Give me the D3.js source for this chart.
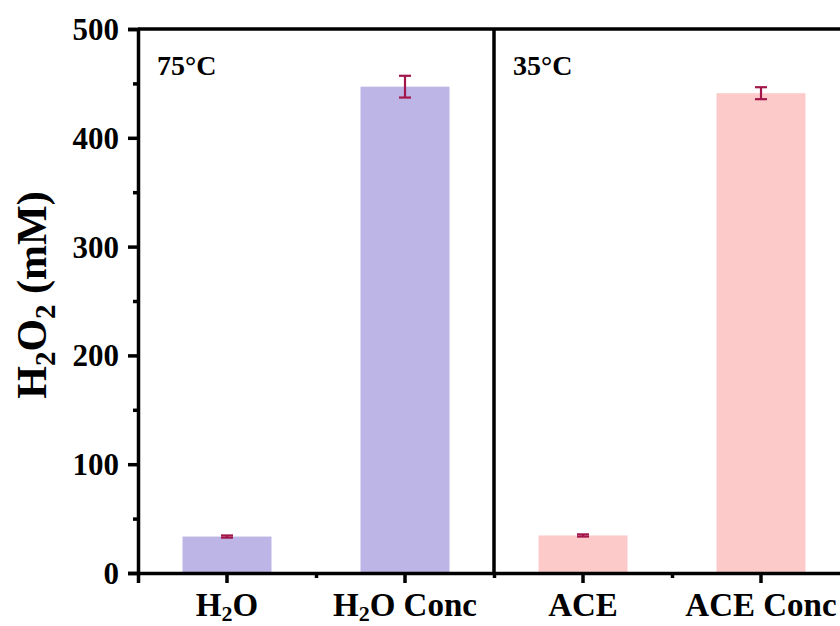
<!DOCTYPE html>
<html>
<head>
<meta charset="utf-8">
<script src="https://cdn.jsdelivr.net/npm/d3@7"></script>
<style>
  body { margin: 0; background: #fff; }
  text { font-family: "Liberation Serif", "Times New Roman", serif; font-weight: bold; }
</style>
</head>
<body>
<div id="chart"></div>
<script>
var margin = {left: 138, top: 29, right: 0, bottom: 53},
    width = 840 - margin.left,
    height = 626 - margin.top - margin.bottom;

// data
var categories = ["H2O", "H2O Conc", "ACE", "ACE Conc"];
var values = [33.5, 447, 34.5, 441];
var errors = [1, 10, 1, 5.5];
var groupLabels = ["75\u00B0C", "35\u00B0C"];
var yTicks = [0, 100, 200, 300, 400, 500];
var barColors = ["#bcb5e5", "#bcb5e5", "#fdcaca", "#fdcaca"];

var bandWidth = 178;

var x = d3.scaleBand()
    .domain(categories)
    .range([0, bandWidth * categories.length])
    .padding(0);

var y = d3.scaleLinear()
    .domain([0, 500])
    .range([height, 0]);

var svg = d3.select("#chart").append("svg")
    .attr("width", 840)
    .attr("height", 626)
  .append("g")
    .attr("transform", "translate(" + margin.left + "," + margin.top + ")");

// bars
svg.selectAll("rect.bar")
    .data(values)
  .enter().append("rect")
    .attr("class", "bar")
    .attr("x", function(d, i) { return x(categories[i]) + x.bandwidth() * 0.25; })
    .attr("width", x.bandwidth() * 0.5)
    .attr("y", function(d) { return y(d); })
    .attr("height", function(d) { return y(0) - y(d); })
    .style("fill", function(d, i) { return barColors[i]; });

// error bars
var err = svg.selectAll("g.err")
    .data(values)
  .enter().append("g")
    .attr("class", "err")
    .style("stroke", "#a3164a")
    .style("stroke-width", 2.2);

err.append("line")
    .attr("x1", function(d, i) { return x(categories[i]) + x.bandwidth() / 2; })
    .attr("x2", function(d, i) { return x(categories[i]) + x.bandwidth() / 2; })
    .attr("y1", function(d, i) { return y(d + errors[i]); })
    .attr("y2", function(d, i) { return y(d - errors[i]); });

[1, -1].forEach(function(s) {
  err.append("line")
    .attr("x1", function(d, i) { return x(categories[i]) + x.bandwidth() / 2 - 6; })
    .attr("x2", function(d, i) { return x(categories[i]) + x.bandwidth() / 2 + 6; })
    .attr("y1", function(d, i) { return y(d + s * errors[i]); })
    .attr("y2", function(d, i) { return y(d + s * errors[i]); });
});

// y axis
var yAxis = svg.append("g")
    .call(d3.axisLeft(y).tickValues(yTicks).tickSize(10).tickPadding(9));
yAxis.selectAll("text").style("font-size", "31px").style("fill", "#000").attr("dy", "0.34em");

var yMinor = svg.append("g")
    .call(d3.axisLeft(y).tickValues(d3.range(50, 500, 100)).tickSize(5).tickFormat(""));

// x axis
var xAxis = svg.append("g")
    .attr("transform", "translate(0," + height + ")")
    .call(d3.axisBottom(x).tickSize(10).tickPadding(12).tickFormat(""));

var xMinor = svg.append("g")
    .attr("transform", "translate(0," + height + ")")
    .call(d3.axisBottom(d3.scaleLinear().domain([0, 4]).range([0, bandWidth * 4]))
      .tickValues([1, 2, 3]).tickSize(5).tickFormat(""));

[yAxis, yMinor, xAxis, xMinor].forEach(function(a) {
  a.select(".domain").style("stroke", "#000").style("stroke-width", 3.5);
  a.selectAll(".tick line").style("stroke", "#000").style("stroke-width", 3.5);
});
yMinor.select(".domain").remove();
xMinor.select(".domain").remove();

// x labels with subscripts
var xl = svg.selectAll("text.xlab")
    .data(categories)
  .enter().append("text")
    .attr("class", "xlab")
    .attr("x", function(d) { return x(d) + x.bandwidth() / 2; })
    .attr("y", height + 43)
    .attr("text-anchor", "middle")
    .style("font-size", "33px");

xl.each(function(d) {
  var t = d3.select(this);
  if (d.indexOf("H2O") === 0) {
    t.append("tspan").text("H");
    t.append("tspan").attr("dy", 5).style("font-size", "22px").text("2");
    t.append("tspan").attr("dy", -5).text("O" + d.slice(3));
  } else {
    t.text(d);
  }
});

// frame top + divider
svg.append("line")
    .attr("x1", 0).attr("x2", width)
    .attr("y1", 0).attr("y2", 0)
    .style("stroke", "#000").style("stroke-width", 3.5);

svg.append("line")
    .attr("x1", x("ACE")).attr("x2", x("ACE"))
    .attr("y1", 0).attr("y2", height)
    .style("stroke", "#000").style("stroke-width", 3.5);

// group labels
svg.selectAll("text.grp")
    .data(groupLabels)
  .enter().append("text")
    .attr("class", "grp")
    .attr("x", function(d, i) { return x(categories[i * 2]) + 19; })
    .attr("y", 46)
    .style("font-size", "28px")
    .text(function(d) { return d; });

// y title
var yt = svg.append("text")
    .attr("transform", "translate(" + (-92) + "," + (y(250) - 6) + ") rotate(-90)")
    .attr("text-anchor", "middle")
    .style("font-size", "42px");
yt.append("tspan").text("H");
yt.append("tspan").attr("dy", 9).style("font-size", "29px").text("2");
yt.append("tspan").attr("dy", -9).text("O");
yt.append("tspan").attr("dy", 9).style("font-size", "29px").text("2");
yt.append("tspan").attr("dy", -9).text(" (mM)");
</script>
</body>
</html>
